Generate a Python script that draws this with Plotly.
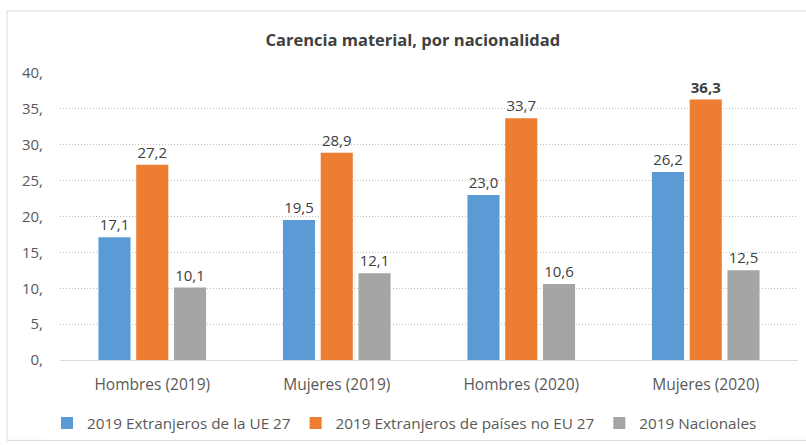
import plotly.graph_objects as go

categories = ["Hombres (2019)", "Mujeres (2019)", "Hombres (2020)", "Mujeres (2020)"]
series_names = ["2019 Extranjeros de la UE 27", "2019 Extranjeros de países no EU 27", "2019 Nacionales"]
ue27 = [17.1, 19.5, 23.0, 26.2]
no_ue27 = [27.2, 28.9, 33.7, 36.3]
nacionales = [10.1, 12.1, 10.6, 12.5]
tick_vals = [0, 5, 10, 15, 20, 25, 30, 35, 40]
tick_text = ["0,", "5,", "10,", "15,", "20,", "25,", "30,", "35,", "40,"]
colors = ["#5B9BD5", "#ED7D31", "#A5A5A5"]

FONT = "Open Sans, sans-serif"

def fmt(vals, bold_max=False):
    out = []
    m = max(vals)
    for v in vals:
        s = f"{v:.1f}".replace(".", ",")
        if bold_max and v == m:
            s = f"<b>{s}</b>"
        out.append(s)
    return out

fig = go.Figure()
for name, vals, col, bold in zip(series_names, [ue27, no_ue27, nacionales], colors, [False, True, False]):
    fig.add_trace(go.Bar(
        x=categories, y=vals, name=name, marker_color=col,
        marker_line_width=0,
        text=fmt(vals, bold), textposition="outside",
        textfont=dict(size=15, color="#404040", family=FONT),
        cliponaxis=False,
    ))

fig.update_layout(
    width=806, height=445,
    margin=dict(l=60, r=8, t=73, b=85, autoexpand=False),
    paper_bgcolor="white", plot_bgcolor="white",
    barmode="group", bargap=0.386, bargroupgap=0.15,
    font=dict(family=FONT, size=14, color="#595959"),
    title=dict(text="<b>Carencia material, por nacionalidad</b>", x=0.478, xref="paper",
               y=1 - 40 / 445, yanchor="middle", xanchor="center",
               font=dict(size=16.5, color="#404040", family=FONT)),
    showlegend=True,
    legend=dict(orientation="h", x=-0.0176, xanchor="left", xref="paper",
                y=-0.22, yanchor="middle", font=dict(size=15.3, color="#595959"),
                itemwidth=30, traceorder="normal"),
    xaxis=dict(showgrid=False, showline=True, linecolor="#D9D9D9", linewidth=1,
               ticks="", ticklabelstandoff=10, tickfont=dict(size=15.5, color="#595959")),
    yaxis=dict(range=[0, 40], tickvals=tick_vals, ticktext=tick_text,
               showgrid=True, gridcolor="#BFBFBF", griddash="1px,2px", gridwidth=1,
               zeroline=False, showline=False, ticks="", ticklabelstandoff=16,
               tickfont=dict(size=15, color="#595959")),
    shapes=[dict(type="rect", xref="paper", yref="paper",
                 x0=-0.0718, y0=-0.28, x1=1.02, y1=1.216,
                 line=dict(color="#D9D9D9", width=1), fillcolor="rgba(0,0,0,0)", layer="below")],
)

fig.write_html("out.html", config={"displayModeBar": False},
               post_script="document.body.style.margin='0';document.body.style.overflow='hidden';")
